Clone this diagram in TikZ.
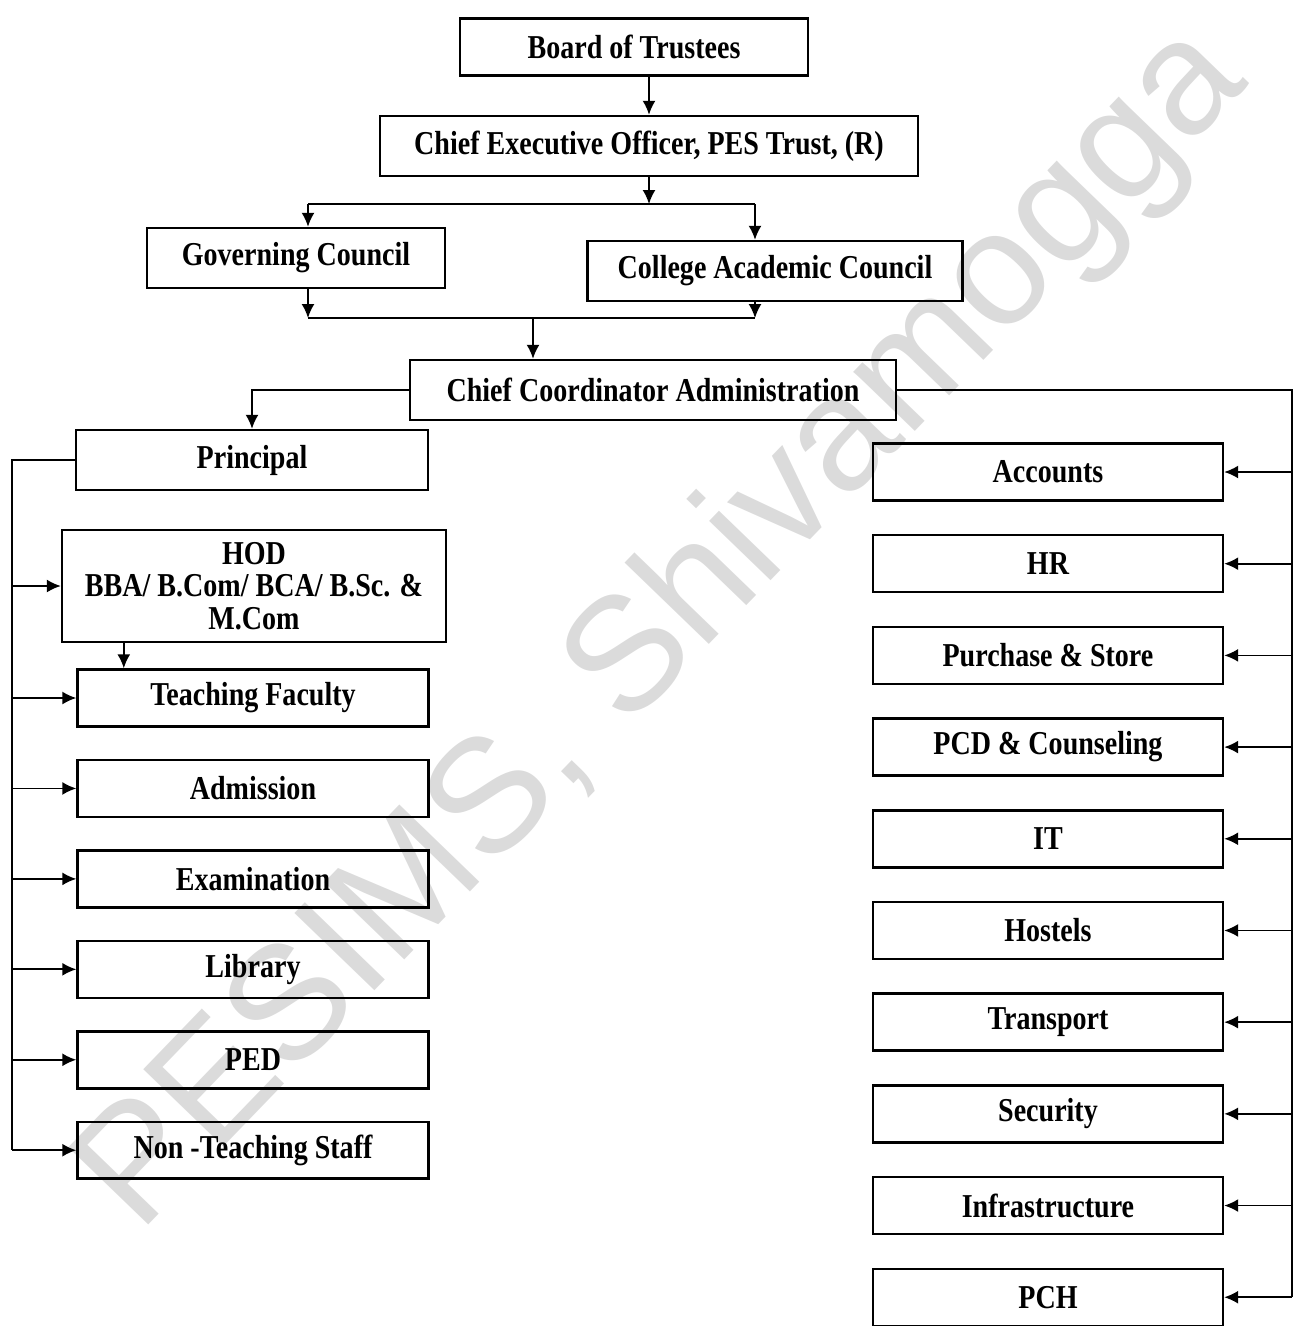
\documentclass[tikz,border=0pt]{standalone}
\usepackage{fontspec}
\setmainfont[FakeStretch=0.84]{Liberation Serif}
\newfontfamily\wmfont{Liberation Sans}
\usetikzlibrary{positioning,arrows.meta}

\begin{document}
\begin{tikzpicture}[x=0.02cm,y=-0.02cm,
    orgbox/.style={rectangle, draw=black, line width=1.4pt, minimum height=1.14cm, inner sep=2pt, align=center, font=\bfseries\fontsize{19}{18.5}\selectfont},
    arr/.style={-{Latex[length=2.8mm,width=2.6mm]}, line width=1pt},
    link/.style={line width=1pt}]

        \useasboundingbox (0,0) rectangle (1297,1326);

        % watermark
        \node[text=gray!28, rotate=46, font=\wmfont\fontsize{92}{92}\selectfont] (wm) at (665,630) {PESIMS, Shivamogga};

        % top of the chart
        \node[orgbox, minimum width=6.96cm] (bot) at (634,47) {Board of Trustees};
        \node[orgbox, minimum width=10.76cm, minimum height=1.2cm] (ceo) at (649,146) {Chief Executive Officer, PES Trust, (R)};
        \node[orgbox, minimum width=5.96cm, minimum height=1.2cm] (gc) at (296,258) {Governing Council};
        \node[orgbox, minimum width=7.5cm, minimum height=1.2cm] (cac) at (775,271) {College Academic Council};
        \node[orgbox, minimum width=9.72cm, minimum height=1.2cm] (cca) at (653,390) {Chief Coordinator Administration};

        % left column
        \node[orgbox, minimum width=7.04cm, minimum height=1.2cm] (prin) at (252,460) {Principal};
        \node[orgbox, minimum width=7.68cm, minimum height=2.24cm] (hod) at (254,586) {HOD\\BBA/ B.Com/ BCA/ B.Sc. \&\\M.Com};
        \node[orgbox, minimum width=7.02cm] (tf) at (253,698) {Teaching Faculty};
        \node[orgbox, minimum width=7.02cm] (adm) [below=0.62cm of tf] {Admission};
        \node[orgbox, minimum width=7.02cm] (exa) [below=0.62cm of adm] {Examination};
        \node[orgbox, minimum width=7.02cm] (lib) [below=0.62cm of exa] {Library};
        \node[orgbox, minimum width=7.02cm] (ped) [below=0.62cm of lib] {PED};
        \node[orgbox, minimum width=7.02cm] (nts) [below=0.62cm of ped] {Non -Teaching Staff};

        % right column
        \node[orgbox, minimum width=7cm] (acc) at (1048,472) {Accounts};
        \node[orgbox, minimum width=7cm] (hr) [below=0.645cm of acc] {HR};
        \node[orgbox, minimum width=7cm] (pur) [below=0.645cm of hr] {Purchase \& Store};
        \node[orgbox, minimum width=7cm] (pcd) [below=0.645cm of pur] {PCD \& Counseling};
        \node[orgbox, minimum width=7cm] (it) [below=0.645cm of pcd] {IT};
        \node[orgbox, minimum width=7cm] (hos) [below=0.645cm of it] {Hostels};
        \node[orgbox, minimum width=7cm] (tra) [below=0.645cm of hos] {Transport};
        \node[orgbox, minimum width=7cm] (sec) [below=0.645cm of tra] {Security};
        \node[orgbox, minimum width=7cm] (inf) [below=0.645cm of sec] {Infrastructure};
        \node[orgbox, minimum width=7cm] (pch) [below=0.645cm of inf] {PCH};

        % connectors at the top
        \coordinate (bus1) at (649,204);
        \coordinate (bus1l) at (308,204);
        \coordinate (bus1r) at (755,204);
        \coordinate (bus2) at (533,318);
        \coordinate (bus2l) at (308,318);
        \coordinate (bus2r) at (755,318);
        \draw[arr] (ceo.north |- bot.south) -- (ceo.north);
        \draw[arr] (ceo.south) -- (bus1);
        \draw[link] (bus1l) -- (bus1r);
        \draw[arr] (bus1l) -- (bus1l |- gc.north);
        \draw[arr] (bus1r) -- (bus1r |- cac.north);
        \draw[arr] (bus2l |- gc.south) -- (bus2l);
        \draw[arr] (bus2r |- cac.south) -- (bus2r);
        \draw[link] (bus2l) -- (bus2r);
        \draw[arr] (bus2) -- (bus2 |- cca.north);
        \draw[arr] (cca.west) -| (prin.north);

        % left bus
        \coordinate (lbus) at (12,0);
        \draw[link] (prin.west) -| (lbus |- nts.west);
        \foreach \n in {hod,tf,adm,exa,lib,ped,nts}
            \draw[arr] (lbus |- \n.west) -- (\n.west);
        \coordinate (hodfoot) at ([xshift=1.26cm]hod.south west);
        \draw[arr] (hodfoot) -- (hodfoot |- tf.north);

        % right bus
        \coordinate (rbus) at (1292,0);
        \draw[link] (cca.east) -| (rbus |- pch.east);
        \foreach \n in {acc,hr,pur,pcd,it,hos,tra,sec,inf,pch}
            \draw[arr] (rbus |- \n.east) -- (\n.east);

\end{tikzpicture}
\end{document}
